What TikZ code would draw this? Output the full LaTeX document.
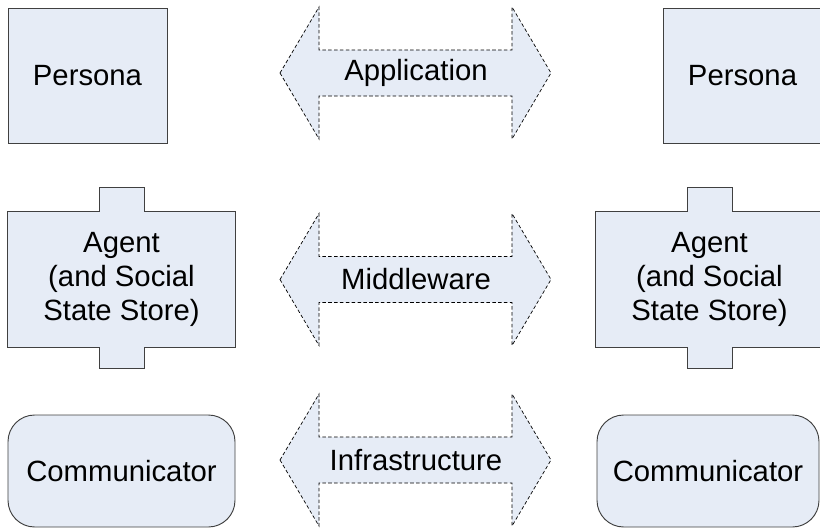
\documentclass[tikz,border=0pt]{standalone}
\usepackage{fontspec}
\setmainfont{Liberation Sans}
\usepackage{tikz}
\usetikzlibrary{calc,backgrounds}
\definecolor{layerfill}{RGB}{230,236,246}
\definecolor{layerline}{RGB}{64,64,64}

\begin{document}
\begin{tikzpicture}[
    x=0.03cm, y=-0.03cm,
    font=\fontsize{25}{29}\selectfont,
    persona/.style={draw=layerline, fill=layerfill, line width=0.8pt, inner sep=0pt, minimum width=4.77cm, minimum height=4.05cm, align=center},
    agent/.style={inner sep=0pt, minimum width=6.81cm, minimum height=4.05cm, align=center},
    comm/.style={draw=layerline, fill=layerfill, line width=0.8pt, rounded corners=0.8cm, inner sep=0pt, minimum width=6.81cm, minimum height=3.36cm, align=center},
    layer/.style={inner sep=0pt, align=center},
    outline/.style={draw=layerline, fill=layerfill, line width=0.8pt},
    link/.style={draw=black, fill=layerfill, line width=0.6pt, dash pattern=on 3pt off 2pt}
]
\useasboundingbox (0,0) rectangle (820,528);
\clip (0,0) rectangle (820,528);

% end systems
\node[persona] (persL) at (87.5,75.5) {Persona};
\node[persona] (persR) at (742.5,75.5) {Persona};
\node[agent] (agL) at (121.5,279.5) {Agent\\(and Social\\State Store)};
\node[agent] (agR) at (709.5,279.5) {Agent\\(and Social\\State Store)};
\node[comm] (comL) at (121.5,471) {Communicator};
\node[comm, minimum width=6.66cm] (comR) at (708,471) {Communicator};

% layers in between
\node[layer] (app) at (416,73) {Application};
\node[layer] (mid) at (416,279.5) {Middleware};
\node[layer] (infra) at (416,460) {Infrastructure};

\begin{scope}[on background layer]
\foreach \ag in {agL,agR}
  \path[outline] (\ag.north west) -- ($(\ag.north)+(-22.5,0)$) -- ++(0,-24) -- ++(45,0) -- ++(0,24)
    -- (\ag.north east) -- (\ag.south east) -- ($(\ag.south)+(22.5,0)$) -- ++(0,21) -- ++(-45,0)
    -- ++(0,-21) -- (\ag.south west) -- cycle;
\foreach \ly in {app,mid,infra}
  \path[link] ($(\ly)+(-136,0)$) -- ++(39,-66) -- ++(0,43) -- ++(193,0) -- ++(0,-43) -- ++(39,66)
    -- ++(-39,66) -- ++(0,-43) -- ++(-193,0) -- ++(0,43) -- cycle;
\end{scope}
\end{tikzpicture}
\end{document}
